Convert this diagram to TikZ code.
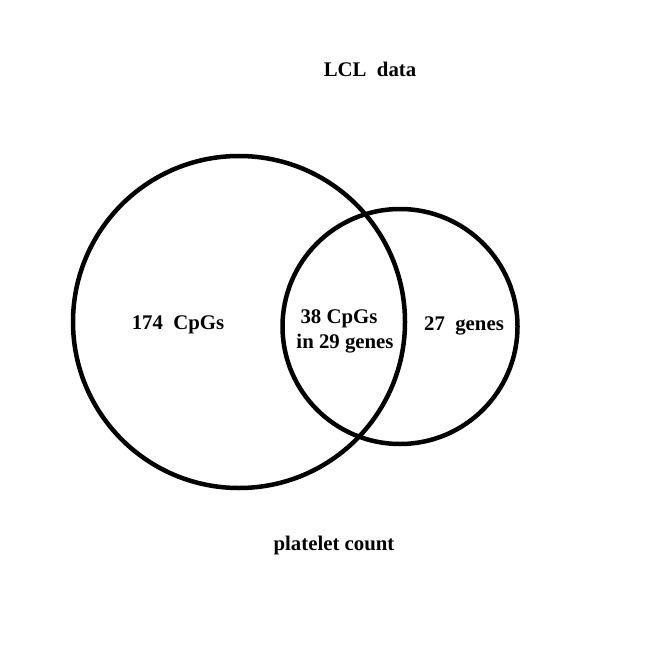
\documentclass[tikz,border=0pt]{standalone}
\usepackage{fontspec}
\setmainfont{Liberation Serif}
\tikzset{
  setline/.style={line width=4.5pt},
  lbl/.style={font=\fontsize{20.8}{24}\selectfont\bfseries, inner sep=0pt}
}
\begin{document}
\begin{tikzpicture}[x=1pt,y=-1pt]
        \useasboundingbox (0,0) rectangle (646,647);
        % sets
        \draw[setline] (239,322) circle (166);
        \draw[setline] (400,326.5) circle (117.5);
        
        % labels
        \node[lbl] (title) at (370,69) {LCL\ \ data};
        \node[lbl] (left) at (178,325) {174\ \ CpGs};
        \node[lbl] (midA) at (339,319) {38\ CpGs};
        \node[lbl] (midB) at (345,344) {in 29 genes};
        \node[lbl] (right) at (464,326) {27\ \ genes};
        \node[lbl] (bottom) at (334,545) {platelet count};
    \end{tikzpicture}
\end{document}
